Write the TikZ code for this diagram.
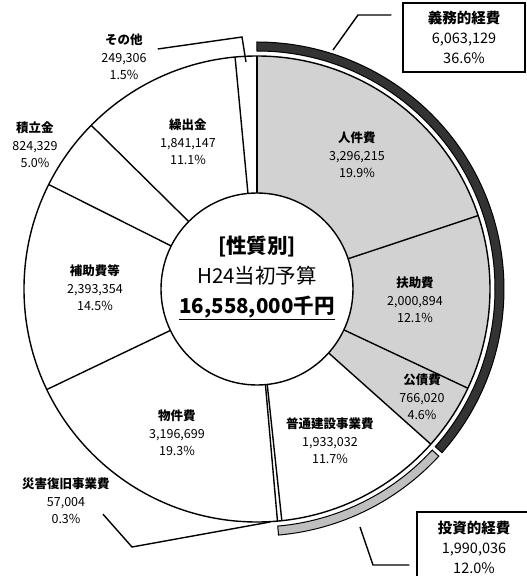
\documentclass[tikz,border=0pt]{standalone}
\usepackage{fontspec}
\setmainfont{Noto Sans CJK JP}
\begin{document}
\begin{tikzpicture}[x=1pt,y=1pt,
  lbl/.style={align=center,inner sep=1pt,font=\fontsize{12.5}{17.5}\selectfont},
  sumbox/.style={draw,line width=1.5pt,align=center,inner sep=2pt,font=\fontsize{14.5}{20}\selectfont},
  sep/.style={line width=1.4pt},
  lead/.style={line width=1.4pt}]
\path[use as bounding box,clip] (-257,289) rectangle (270,-287);
% shaded part and outer bands
\fill[gray!35] (90:96pt) arc[start angle=90,end angle=-41.76,radius=96pt] -- (-41.76:233pt) arc[start angle=-41.76,end angle=90,radius=233pt] -- cycle;
\draw[line width=1pt,fill=black!80] (90:238pt) arc[start angle=90,end angle=-41.5,radius=238pt] -- (-41.5:247pt) arc[start angle=-41.5,end angle=90,radius=247pt] -- cycle;
\draw[line width=1pt,fill=gray!50] (-42.6:238pt) arc[start angle=-42.6,end angle=-85,radius=238pt] -- (-85:247pt) arc[start angle=-85,end angle=-42.6,radius=247pt] -- cycle;
% slices
\draw[sep] (0,0) circle[radius=233pt];
\foreach \a in {90,18.36,-25.2,-41.76,-83.88,-84.96,-154.44,-206.64,-224.64,-264.6}
  \draw[sep] (\a:96pt) -- (\a:233pt);
\draw[sep,fill=white] (0,0) circle[radius=96pt];
\node[align=center,font=\fontsize{20.5}{30}\selectfont] (total) at (0,11) {\textbf{[性質別]}\\H24当初予算\\\textbf{\underline{16,558,000千円}}};
% labels
\node[lbl] (jinken) at (100,134) {\textbf{人件費}\\3,296,215\\19.9\%};
\node[lbl] (fujo) at (158,-11) {\textbf{扶助費}\\2,000,894\\12.1\%};
\node[lbl] (kosai) at (165,-108) {\textbf{公債費}\\766,020\\4.6\%};
\node[lbl] (futsu) at (73,-152) {\textbf{普通建設事業費}\\1,933,032\\11.7\%};
\node[lbl] (saigai) at (-191,-212) {\textbf{災害復旧事業費}\\57,004\\0.3\%};
\node[lbl] (bukken) at (-80,-144) {\textbf{物件費}\\3,196,699\\19.3\%};
\node[lbl] (hojo) at (-162,1) {\textbf{補助費等}\\2,393,354\\14.5\%};
\node[lbl] (tsumitate) at (-222,144) {\textbf{積立金}\\824,329\\5.0\%};
\node[lbl] (kuridashi) at (-69,147) {\textbf{繰出金}\\1,841,147\\11.1\%};
\node[lbl] (sonota) at (-133,232) {\textbf{その他}\\249,306\\1.5\%};
% totals
\node[sumbox,minimum width=122pt,minimum height=69pt] (gimu) at (207,251.5) {\textbf{義務的経費}\\6,063,129\\36.6\%};
\node[sumbox,minimum width=114pt,minimum height=70pt] (toshi) at (217,-258) {\textbf{投資的経費}\\1,990,036\\12.0\%};
% leaders
\coordinate (c1) at (-15,252);
\coordinate (e1) at (-11,227);
\draw[lead] ([xshift=10pt,yshift=8pt]sonota.east) -- (c1) -- (e1);
\coordinate (c2) at (-125,-258);
\coordinate (e2) at (13,-233);
\draw[lead] ([xshift=-8pt,yshift=11pt]saigai.south east) -- (c2) -- (e2);
\coordinate (c3) at (101,274);
\coordinate (e3) at (76,239);
\draw[lead] ([xshift=-11pt,yshift=22.5pt]gimu.west) -- (c3) -- (e3);
\coordinate (s4) at (103,-238);
\coordinate (c4) at (116,-276);
\draw[lead] (s4) -- (c4) -- ([xshift=-7pt,yshift=-18pt]toshi.west);
\end{tikzpicture}
\end{document}
